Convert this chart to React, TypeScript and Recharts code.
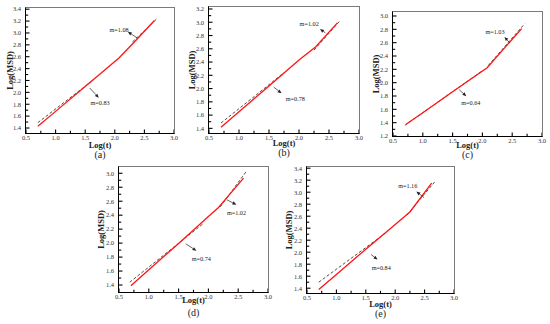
import { LineChart, Line, XAxis, YAxis, ReferenceLine, ReferenceDot } from 'recharts';

type Pt = [number, number];

// x = Log(t), y = Log(MSD)
const xMajor = [0.5, 1.0, 1.5, 2.0, 2.5, 3.0];

const redA: Pt[] = [[0.70, 1.43], [1.0, 1.68], [1.5, 2.10], [2.07, 2.58], [2.35, 2.87], [2.67, 3.21]];
const fitA1: Pt[] = [[0.70, 1.49], [1.65, 2.22]];
const fitA2: Pt[] = [[2.30, 2.85], [2.70, 3.23]];

const redB: Pt[] = [[0.70, 1.415], [1.0, 1.65], [1.5, 2.04], [2.0, 2.43], [2.28, 2.63], [2.64, 2.99]];
const fitB1: Pt[] = [[0.70, 1.48], [1.75, 2.24]];
const fitB2: Pt[] = [[2.25, 2.58], [2.68, 3.02]];

const redC: Pt[] = [[0.72, 1.375], [1.0, 1.55], [1.5, 1.865], [2.08, 2.225], [2.35, 2.5], [2.66, 2.81]];
const fitC1: Pt[] = [[0.70, 1.36], [2.0, 2.18]];
const fitC2: Pt[] = [[2.10, 2.26], [2.71, 2.885]];

const redD: Pt[] = [[0.70, 1.39], [1.0, 1.62], [1.5, 1.995], [2.0, 2.38], [2.17, 2.51], [2.4, 2.74], [2.59, 2.93]];
const fitD1: Pt[] = [[0.68, 1.44], [1.9, 2.27]];
const fitD2: Pt[] = [[2.20, 2.52], [2.63, 3.02]];

const redE: Pt[] = [[0.70, 1.38], [1.0, 1.63], [1.5, 2.05], [2.0, 2.46], [2.25, 2.67], [2.62, 3.15]];
const fitE1: Pt[] = [[0.70, 1.50], [1.85, 2.33]];
const fitE2: Pt[] = [[2.20, 2.62], [2.67, 3.17]];

// arrows: [tail on the line, head near the note]
const arrowsA: [Pt, Pt][] = [[[2.375, 2.917], [2.22, 3.02]], [[1.575, 2.074], [1.73, 1.91]]];
const arrowsB: [Pt, Pt][] = [[[2.44, 2.84], [2.35, 2.90]], [[1.58, 2.02], [1.71, 1.93]]];
const arrowsC: [Pt, Pt][] = [[[2.46, 2.595], [2.37, 2.685]], [[1.61, 1.895], [1.73, 1.795]]];
const arrowsD: [Pt, Pt][] = [[[2.31, 2.62], [2.47, 2.55]], [[1.62, 1.99], [1.80, 1.89]]];
const arrowsE: [Pt, Pt][] = [[[2.49, 2.91], [2.36, 3.01]], [[1.59, 1.96], [1.70, 1.88]]];

const notesA: [Pt, string][] = [[[1.91, 3.06], 'm=1.08'], [[1.59, 1.82], 'm=0.83']];
const notesB: [Pt, string][] = [[[2.01, 2.98], 'm=1.02'], [[1.78, 1.84], 'm=0.78']];
const notesC: [Pt, string][] = [[[2.05, 2.77], 'm=1.03'], [[1.645, 1.695], 'm=0.64']];
const notesD: [Pt, string][] = [[[2.31, 2.44], 'm=1.02'], [[1.72, 1.78], 'm=0.74']];
const notesE: [Pt, string][] = [[[2.05, 3.10], 'm=1.16'], [[1.60, 1.74], 'm=0.84']];

const rows = (pts: Pt[]) => pts.map(([x, y]) => ({ x, y }));
const steps = (a: number, b: number, s: number) => {
  const out: number[] = [];
  for (let v = a; v <= b + 1e-9; v += s) out.push(Math.round(v * 100) / 100);
  return out;
};
const xTicks = steps(0.5, 3.0, 0.25);
const isMajorX = (v: number) => xMajor.some((m) => Math.abs(m - v) < 1e-6);
const isMajorY = (v: number) => Math.round(v * 10) % 2 === 0;

function XTick({ x, y, payload }: any) {
  const v = payload.value;
  if (!isMajorX(v)) return <g />;
  return <text x={x} y={y} dy="0.71em" textAnchor="middle" fontSize={6.5} fill="#333">{v.toFixed(1)}</text>;
}

function YTick({ x, y, payload }: any) {
  const v = payload.value;
  if (!isMajorY(v)) return <g />;
  return <text x={x} y={y} dy="0.355em" textAnchor="end" fontSize={6.5} fill="#333">{v.toFixed(1)}</text>;
}

// inward tick mark starting at the first point of the segment
const tickShape = (dir: 'up' | 'right', len: number) => (props: any) => {
  const { x1, y1 } = props;
  return dir === 'up'
    ? <line x1={x1} y1={y1} x2={x1} y2={y1 - len} stroke="#000" strokeWidth={1.1} />
    : <line x1={x1} y1={y1} x2={x1 + len} y2={y1} stroke="#000" strokeWidth={1.1} />;
};

function ArrowShape(props: any) {
  const { x1, y1, x2, y2 } = props;
  const a = Math.atan2(y2 - y1, x2 - x1);
  const L = 4;
  const W = 1.7;
  const bx = x2 - L * Math.cos(a);
  const by = y2 - L * Math.sin(a);
  const p1 = `${bx + W * Math.sin(a)},${by - W * Math.cos(a)}`;
  const p2 = `${bx - W * Math.sin(a)},${by + W * Math.cos(a)}`;
  return (
    <g>
      <line x1={x1} y1={y1} x2={bx} y2={by} stroke="#222" strokeWidth={0.7} />
      <polygon points={`${x2},${y2} ${p1} ${p2}`} fill="#222" />
    </g>
  );
}

function XTitle({ viewBox, dy, tagDy, tag }: any) {
  const cx = viewBox.x + viewBox.width / 2;
  return (
    <g>
      <text x={cx} y={viewBox.y + dy} textAnchor="middle" fontSize={8.5} fontWeight="bold" fill="#222">Log(t)</text>
      <text x={cx} y={viewBox.y + tagDy} textAnchor="middle" fontSize={10} fill="#222">{tag}</text>
    </g>
  );
}

function YTitle({ viewBox, cx }: any) {
  const cy = viewBox.y + viewBox.height / 2;
  return (
    <text x={cx} y={cy} transform={`rotate(-90 ${cx} ${cy})`} textAnchor="middle" dominantBaseline="central"
      fontSize={8.5} fontWeight="bold" fill="#222">Log(MSD)</text>
  );
}

interface PanelProps {
  left: number; top: number; width: number; height: number;
  mTop: number; mRight: number; yW: number; xH: number;
  yDomain: [number, number]; yTicks: number[];
  red: Pt[]; fit1: Pt[]; fit2: Pt[];
  arrows: [Pt, Pt][]; notes: [Pt, string][];
  tag: string; yTitleX: number; xTitleDy: number; tagDy: number;
}

function Panel(p: PanelProps) {
  const [y0, y1] = p.yDomain;
  const plotW = p.width - p.mRight - p.yW;
  const plotH = p.height - p.xH - p.mTop;
  return (
    <div style={{ position: 'absolute', left: p.left, top: p.top, width: p.width, height: p.height }}>
      <LineChart width={p.width} height={p.height} margin={{ top: p.mTop, right: p.mRight, left: 0, bottom: 0 }}>
        <XAxis type="number" dataKey="x" domain={[0.5, 3.0]} ticks={xTicks} interval={0} allowDataOverflow
          height={p.xH} tick={XTick} tickLine={false} tickSize={0} tickMargin={2} axisLine={false}
          label={{ content: (lp: any) => <XTitle {...lp} dy={p.xTitleDy} tagDy={p.tagDy} tag={p.tag} /> }} />
        <YAxis type="number" domain={p.yDomain} ticks={p.yTicks} interval={0} allowDataOverflow
          width={p.yW} tick={YTick} tickLine={false} tickSize={0} tickMargin={5} axisLine={false}
          label={{ content: (lp: any) => <YTitle {...lp} cx={p.yTitleX} /> }} />
        {xTicks.map((v) => (
          <ReferenceLine key={`xt${v}`} ifOverflow="visible" segment={[{ x: v, y: y0 }, { x: v, y: y1 }]}
            shape={tickShape('up', isMajorX(v) ? 3.5 : 2.2)} />
        ))}
        {p.yTicks.map((v) => (
          <ReferenceLine key={`yt${v}`} ifOverflow="visible" segment={[{ x: 0.5, y: v }, { x: 3.0, y: v }]}
            shape={tickShape('right', isMajorY(v) ? 3.5 : 2.2)} />
        ))}
        <Line data={rows(p.fit1)} dataKey="y" stroke="#222" strokeWidth={0.8} strokeDasharray="3 2"
          dot={false} isAnimationActive={false} />
        <Line data={rows(p.fit2)} dataKey="y" stroke="#222" strokeWidth={0.8} strokeDasharray="3 2"
          dot={false} isAnimationActive={false} />
        <Line data={rows(p.red)} dataKey="y" stroke="#ff1414" strokeWidth={1.3} dot={false} isAnimationActive={false} />
        {p.arrows.map(([from, to], i) => (
          <ReferenceLine key={`ar${i}`} segment={[{ x: from[0], y: from[1] }, { x: to[0], y: to[1] }]}
            shape={ArrowShape} />
        ))}
        {p.notes.map(([at, text], i) => (
          <ReferenceDot key={`nt${i}`} x={at[0]} y={at[1]} r={0} stroke="none" fill="none"
            label={{ value: text, position: 'right', offset: 0, fontSize: 6.2, fill: '#222' }} />
        ))}
      </LineChart>
      {/* plot frame: black left/bottom axes, grey top/right */}
      <div style={{
        position: 'absolute', left: p.yW - 1.5, top: p.mTop - 1, width: plotW, height: plotH,
        borderLeft: '1.5px solid #000', borderBottom: '1.5px solid #000',
        borderTop: '1px solid #7a7a7a', borderRight: '1px solid #7a7a7a', pointerEvents: 'none',
      }} />
    </div>
  );
}

export default function App() {
  return (
    <div style={{ position: 'absolute', left: 0, top: 0, width: 550, height: 324, background: '#fff', fontFamily: '"Liberation Serif", serif' }}>
      <Panel left={0} top={0} width={180} height={165} mTop={8} mRight={6} yW={26} xH={32}
        yDomain={[1.316, 3.42]} yTicks={steps(1.4, 3.4, 0.1)} red={redA} fit1={fitA1} fit2={fitA2}
        arrows={arrowsA} notes={notesA} tag="(a)" yTitleX={10} xTitleDy={15} tagDy={24.5} />
      <Panel left={180} top={0} width={185} height={165} mTop={7} mRight={6} yW={29} xH={32}
        yDomain={[1.33, 3.23]} yTicks={steps(1.4, 3.2, 0.1)} red={redB} fit1={fitB1} fit2={fitB2}
        arrows={arrowsB} notes={notesB} tag="(b)" yTitleX={11.5} xTitleDy={13} tagDy={23} />
      <Panel left={362} top={0} width={188} height={165} mTop={12} mRight={8} yW={31} xH={29}
        yDomain={[1.2, 3.06]} yTicks={steps(1.2, 3.0, 0.1)} red={redC} fit1={fitC1} fit2={fitC2}
        arrows={arrowsC} notes={notesC} tag="(c)" yTitleX={14} xTitleDy={12} tagDy={22} />
      <Panel left={90} top={160} width={185} height={164} mTop={7} mRight={7} yW={29} xH={32}
        yDomain={[1.3, 3.09]} yTicks={steps(1.4, 3.0, 0.1)} red={redD} fit1={fitD1} fit2={fitD2}
        arrows={arrowsD} notes={notesD} tag="(d)" yTitleX={10.5} xTitleDy={11} tagDy={24} />
      <Panel left={275} top={160} width={185} height={164} mTop={7} mRight={6} yW={32} xH={31}
        yDomain={[1.32, 3.42]} yTicks={steps(1.4, 3.4, 0.1)} red={redE} fit1={fitE1} fit2={fitE2}
        arrows={arrowsE} notes={notesE} tag="(e)" yTitleX={13.5} xTitleDy={14} tagDy={24} />
    </div>
  );
}
